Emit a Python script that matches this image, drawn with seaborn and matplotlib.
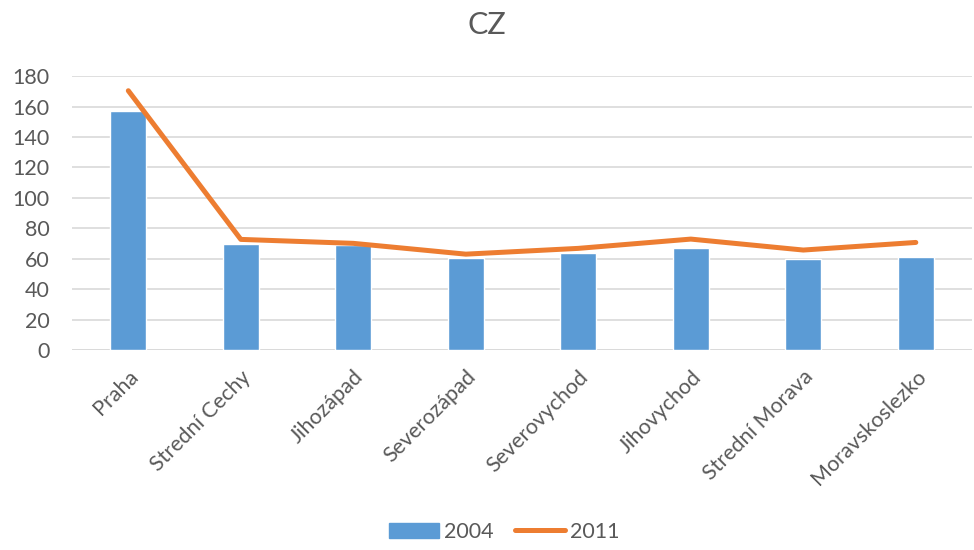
import numpy as np
import pandas as pd
import seaborn as sns
import matplotlib.pyplot as plt
from matplotlib.patches import Patch
from matplotlib.lines import Line2D

# Data
regions = ['Praha', 'Strední Cechy', 'Jihozápad', 'Severozápad',
           'Severovychod', 'Jihovychod', 'Strední Morava', 'Moravskoslezko']
vals_2004 = [157, 70, 69, 60.5, 63.5, 67, 59.6, 61]
vals_2011 = [170.4, 72.7, 70.1, 63, 66.8, 72.9, 65.7, 70.7]

sns.set_style('white')
plt.rcParams['font.family'] = ['Lato', 'DejaVu Sans']

df = pd.DataFrame({'region': regions, 'v2004': vals_2004, 'v2011': vals_2011})
df['pos'] = np.arange(len(df))

fig = plt.figure(figsize=(9.74, 5.5), dpi=100)
ax = fig.add_axes([0.074, 0.3636, 0.924, 0.498])

sns.barplot(data=df, x='pos', y='v2004', color='#5B9BD5', width=0.32,
            saturation=1, ax=ax, native_scale=True)
sns.lineplot(data=df, x='pos', y='v2011', color='#ED7D31', lw=3.6,
             ax=ax, solid_capstyle='round', solid_joinstyle='round', zorder=3)

ax.set_xlim(-0.5, len(regions) - 0.5)
ax.set_ylim(0, 180)
ax.set_yticks(range(0, 181, 20))
ax.yaxis.grid(True, color='#d9d9d9', lw=1.2)
ax.set_axisbelow(True)
for s in ax.spines.values():
    s.set_visible(False)
ax.axhline(0, color='#d9d9d9', lw=1.2, zorder=0)

ax.set_xticks(df['pos'])
ax.set_xticklabels(regions, rotation=45, ha='right', va='top',
                   rotation_mode='anchor', fontsize=15.5, color='#595959')
ax.tick_params(axis='y', labelsize=15.5, labelcolor='#595959', length=0, pad=16)
ax.tick_params(axis='x', length=0, pad=12)
ax.set_xlabel('')
ax.set_ylabel('')

fig.suptitle('CZ', y=0.98, fontsize=22, color='#595959')

handles = [Patch(color='#5B9BD5'),
           Line2D([0], [0], color='#ED7D31', lw=3.6, solid_capstyle='round')]
fig.legend(handles, ['2004', '2011'], loc='lower center', ncol=2,
           bbox_to_anchor=(0.518, -0.02), frameon=False, fontsize=15.5,
           labelcolor='#595959', handlelength=2.3, handletextpad=0.25,
           columnspacing=1.0)

fig.savefig('out.png', dpi=100)
